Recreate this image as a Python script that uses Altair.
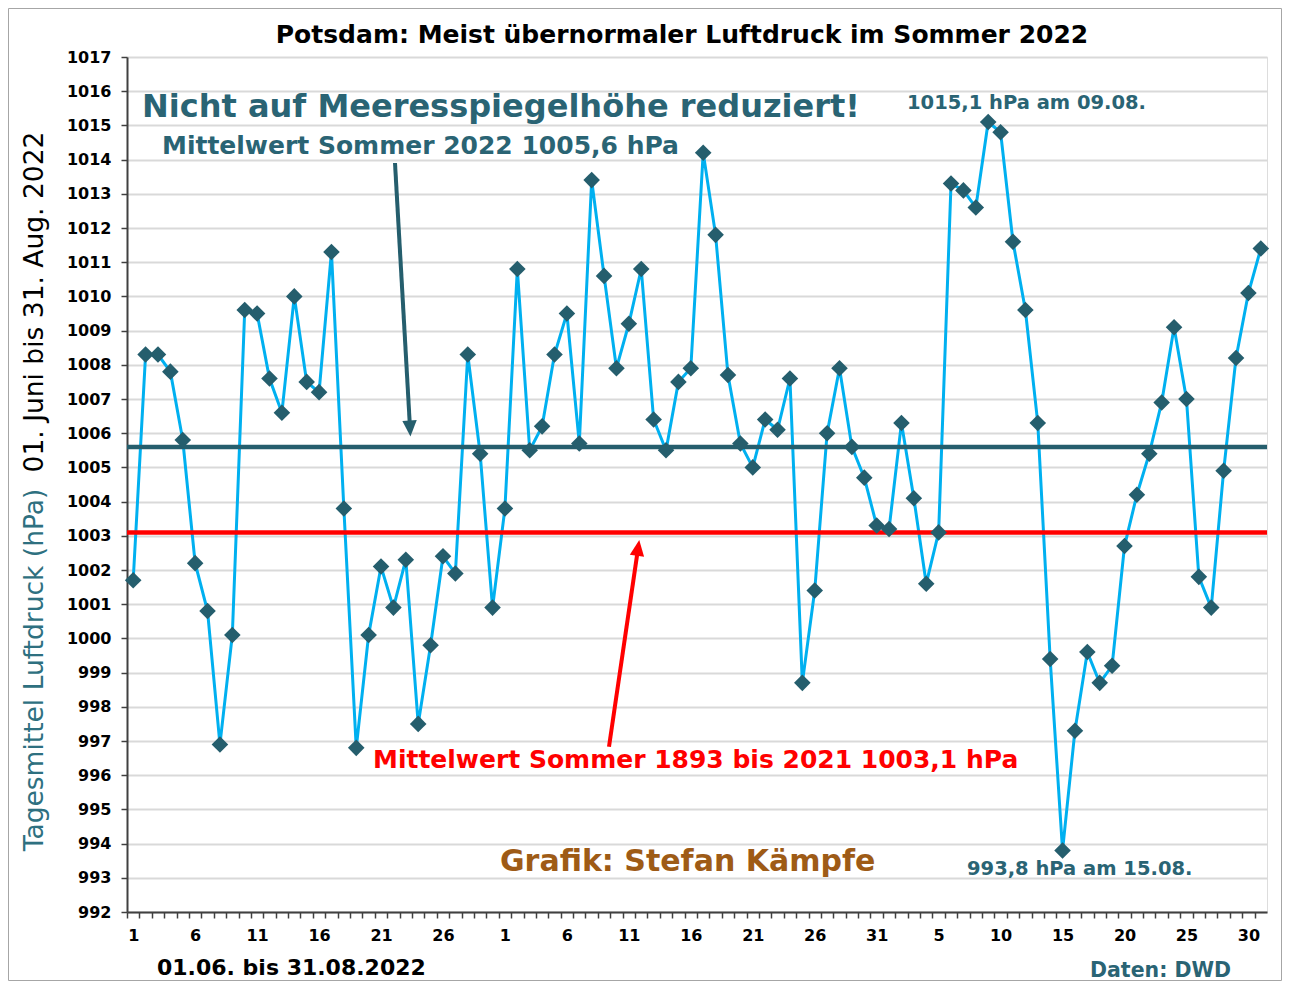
import altair as alt
import pandas as pd

# Daily mean air pressure Potsdam, 01.06. - 31.08.2022 (hPa)
pressure_june = [1001.7, 1008.3, 1008.3, 1007.8, 1005.8, 1002.2, 1000.8, 996.9, 1000.1, 1009.6,
                 1009.5, 1007.6, 1006.6, 1010.0, 1007.5, 1007.2, 1011.3, 1003.8, 996.8, 1000.1,
                 1002.1, 1000.9, 1002.3, 997.5, 999.8, 1002.4, 1001.9, 1008.3, 1005.4, 1000.9]
pressure_july = [1003.8, 1010.8, 1005.5, 1006.2, 1008.3, 1009.5, 1005.7, 1013.4, 1010.6, 1007.9,
                 1009.2, 1010.8, 1006.4, 1005.5, 1007.5, 1007.9, 1014.2, 1011.8, 1007.7, 1005.7,
                 1005.0, 1006.4, 1006.1, 1007.6, 998.7, 1001.4, 1006.0, 1007.9, 1005.6, 1004.7, 1003.3]
pressure_aug = [1003.2, 1006.3, 1004.1, 1001.6, 1003.1, 1013.3, 1013.1, 1012.6, 1015.1, 1014.8,
                1011.6, 1009.6, 1006.3, 999.4, 993.8, 997.3, 999.6, 998.7, 999.2, 1002.7,
                1004.2, 1005.4, 1006.9, 1009.1, 1007.0, 1001.8, 1000.9, 1004.9, 1008.2, 1010.1, 1011.4]

mean_2022 = 1005.6
mean_1893_2021 = 1003.1

x_tick_positions = [0, 5, 10, 15, 20, 25, 30, 35, 40, 45, 50, 55, 60, 65, 70, 75, 80, 85, 90]
x_tick_labels = ["1", "6", "11", "16", "21", "26", "1", "6", "11", "16", "21", "26", "31",
                 "5", "10", "15", "20", "25", "30"]
y_ticks = list(range(992, 1018))

pressure = pressure_june + pressure_july + pressure_aug
df = pd.DataFrame({"i": list(range(len(pressure))), "p": pressure})
means = pd.DataFrame({"v": [mean_1893_2021, mean_2022], "k": ["1893-2021", "2022"]})

TEAL = "#255e6d"
FONT = "DejaVu Sans"
W, H = 1140, 855
half = W / 92 / 2

label_expr = ""
for pos, lab in zip(x_tick_positions, x_tick_labels):
    label_expr += f"datum.value == {pos} ? '{lab}' : "
label_expr += "''"

x_scale = alt.Scale(domain=[-0.5, 91.5], nice=False, zero=False)
y_scale = alt.Scale(domain=[992, 1017], nice=False, zero=False)
x_axis = alt.Axis(values=list(range(93)), tickOffset=-half, labelOffset=half,
                  labelExpr=label_expr, grid=False, labelOverlap=False, labelFlush=False,
                  domainColor="#404040", domainWidth=2, tickColor="#404040",
                  tickWidth=1.5, tickSize=6, labelPadding=9, tickCount=93,
                  labelFont=FONT, labelFontWeight="bold", labelFontSize=16,
                  labelColor="black")
y_axis = alt.Axis(values=y_ticks, grid=True, gridColor="#d9d9d9", gridWidth=2, format="d",
                  domainColor="#404040", domainWidth=2, tickColor="#404040", tickCount=26,
                  tickWidth=1.5, tickSize=6, labelPadding=10, labelOverlap=False,
                  labelFlush=False, labelFont=FONT, labelFontWeight="bold",
                  labelFontSize=16, labelColor="black")

x_enc = alt.X("i:Q", title=None, scale=x_scale, axis=x_axis)
y_enc = alt.Y("p:Q", title=None, scale=y_scale, axis=y_axis)

line = alt.Chart(df).mark_line(color="#00b0f0", strokeWidth=3).encode(x=x_enc, y=y_enc)

mean_rules = alt.Chart(means).mark_rule(strokeWidth=4.5).encode(
    y=alt.Y("v:Q", title=None, scale=y_scale, axis=y_axis),
    color=alt.Color("k:N", scale=alt.Scale(domain=["1893-2021", "2022"], range=["#ff0000", TEAL]),
                    legend=None))

points = alt.Chart(df).mark_point(shape="diamond", filled=True, size=275, color=TEAL,
                                  opacity=1).encode(x=x_enc, y=y_enc)


def label(text, x, y, size, color, weight="bold", align="left", angle=0):
    return alt.Chart(pd.DataFrame({"t": [text]})).mark_text(
        align=align, baseline="middle", font=FONT, fontSize=size, fontWeight=weight,
        color=color, angle=angle).encode(x=alt.value(x), y=alt.value(y), text="t:N")


def arrow(x1, y1, x2, y2, hx, hy, ang, color):
    shaft = alt.Chart(pd.DataFrame({"a": [0]})).mark_rule(color=color, strokeWidth=4).encode(
        x=alt.value(x1), y=alt.value(y1), x2=alt.value(x2), y2=alt.value(y2))
    head = alt.Chart(pd.DataFrame({"a": [0]})).mark_point(
        shape="M0,1L-0.9,-1L0.9,-1Z", filled=True, size=256, color=color, opacity=1,
        angle=ang).encode(x=alt.value(hx), y=alt.value(hy))
    return shaft + head


border = alt.Chart(pd.DataFrame({"a": [0]})).mark_rect(
    fillOpacity=0, stroke="#a6a6a6", strokeWidth=1).encode(
    x=alt.value(-118.5), x2=alt.value(W + 14.5), y=alt.value(-48.5), y2=alt.value(H + 68.5))

texts = [
    label("Potsdam: Meist übernormaler Luftdruck im Sommer 2022", 555, -22, 25, "black",
          align="center"),
    label("Nicht auf Meeresspiegelhöhe reduziert!", 15, 50, 32, "#2a6474"),
    label("Mittelwert Sommer 2022 1005,6 hPa", 35, 89, 25, "#2a6474"),
    label("1015,1 hPa am 09.08.", 780, 46, 19.5, "#2a6474"),
    label("Mittelwert Sommer 1893 bis 2021 1003,1 hPa", 246, 703, 25, "#ff0000"),
    label("Grafik: Stefan Kämpfe", 373, 805, 30, "#9e5b16"),
    label("993,8 hPa am 15.08.", 840, 812, 19.5, "#2a6474"),
    label("01.06. bis 31.08.2022", 30, 911, 22, "black"),
    label("Daten: DWD", 963, 914, 20.5, "#2a6474"),
    label("Tagesmittel Luftdruck (hPa)", -92, 613, 26.5, "#2e7080", weight="normal",
          align="center", angle=270),
    label("01. Juni bis 31. Aug. 2022", -92, 245, 26.5, "black", weight="normal",
          align="center", angle=270),
]

arrows = [
    arrow(268, 106, 282.7, 365.5, 283.0, 371.5, 356.8, TEAL),
    arrow(482, 689.7, 510.4, 495.9, 511.1, 490.9, 188.3, "#ff0000"),
]

chart = alt.layer(line, mean_rules, points, border, *arrows, *texts).properties(
    width=W, height=H,
    padding={"left": 119, "top": 49, "right": 15, "bottom": 69},
    autosize=alt.AutoSizeParams(type="none"),
).configure_view(stroke="#404040", strokeWidth=1.5).configure(background="white")

chart.save("out.html", embed_options={"renderer": "svg", "actions": False})
